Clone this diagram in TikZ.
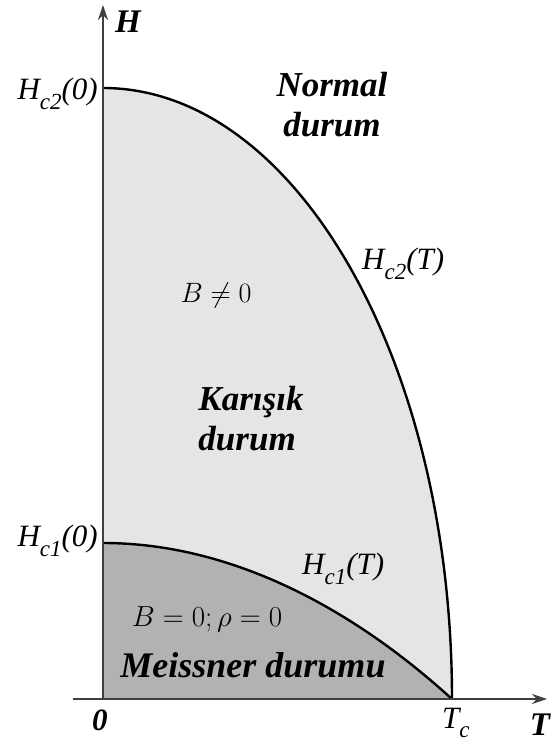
\documentclass[tikz,border=0pt]{standalone}
\usepackage{fix-cm}
\usepackage[no-math]{fontspec}
\setmainfont{Liberation Serif}
\usetikzlibrary{arrows.meta}
\tikzset{
    phase diagram/.style = {x=1pt, y=1pt,
                            >={Stealth[length=15pt, width=10pt]}},
    axis/.style          = {line width=1.4pt, draw=black!75},
    curve/.style         = {line width=2.4pt},
    mixed/.style         = {fill=black!10},
    meissner/.style      = {fill=black!30},
    critical/.style      = {font=\fontsize{31}{31}\selectfont\itshape,
                            inner sep=0pt},
    state/.style         = {font=\fontsize{35}{40}\selectfont\bfseries\itshape,
                            inner sep=0pt},
    axislabel/.style     = {font=\fontsize{33}{33}\selectfont\bfseries\itshape,
                            inner sep=0pt},
    field/.style         = {font=\fontsize{28}{28}\selectfont, inner sep=0pt}
}
\newcommand\sub[1]{\raisebox{-0.3em}{\fontsize{23}{23}\selectfont #1}}
\def\tc{349}
\def\hctwo{611}
\def\hcone{156}

\begin{document}
\begin{tikzpicture}[phase diagram]
\useasboundingbox (-103,-43) rectangle (452,699);

% Upper and lower critical fields bound the three states.
\coordinate (origin) at (0,0);
\coordinate (tc) at (\tc,0);
\coordinate (hc2 zero) at (0,\hctwo);
\coordinate (hc1 zero) at (0,\hcone);
\fill[mixed] (origin) -- (hc2 zero)
    arc[start angle=90, end angle=0, x radius=\tc pt, y radius=\hctwo pt]
    -- cycle;
\fill[meissner] (origin) -- (hc1 zero) parabola (tc) -- cycle;
\draw[curve] (hc2 zero)
    arc[start angle=90, end angle=0, x radius=\tc pt, y radius=\hctwo pt];
\draw[curve] (hc1 zero) parabola (tc);

% Axes.
\coordinate (x start) at (-30,0);
\coordinate (x end) at (444,0);
\coordinate (y end) at (0,694);
\draw[axis, ->] (x start) -- (x end);
\draw[axis, ->] (origin) -- (y end);
\node[axislabel] (H axis) at (25,677) {H};
\node[axislabel] (T axis) at (437,-26) {T};
\node[axislabel, font=\fontsize{31}{31}\selectfont\bfseries\itshape]
    (zero) at (-3,-21) {0};
\node[critical, anchor=base west] (tc label) at (339,-29) {T\sub{c}};

% Critical field labels.
\node[critical, anchor=base east] (hc2 label) at (-5,599) {H\sub{c2}(0)};
\node[critical, anchor=base east] (hc1 label) at (-5,152) {H\sub{c1}(0)};
\node[critical, anchor=base west] (hc2 curve) at (259,429) {H\sub{c2}(T)};
\node[critical, anchor=base west] (hc1 curve) at (199,124) {H\sub{c1}(T)};

% State names.
\node[state, align=center] (normal) at (229,594) {Normal\\durum};
\node[state, align=left] (mixed state) at (148,280) {Karışık\\durum};
\node[field] (b mixed) at (113,403) {$B \neq 0$};
\node[field, font=\fontsize{29}{29}\selectfont]
    (b meissner) at (104,80) {$B = 0; \rho = 0$};
\node[state, anchor=base, font=\fontsize{36}{40}\selectfont\bfseries\itshape]
    (meissner state) at (150,22) {Meissner durumu};

\end{tikzpicture}
\end{document}
